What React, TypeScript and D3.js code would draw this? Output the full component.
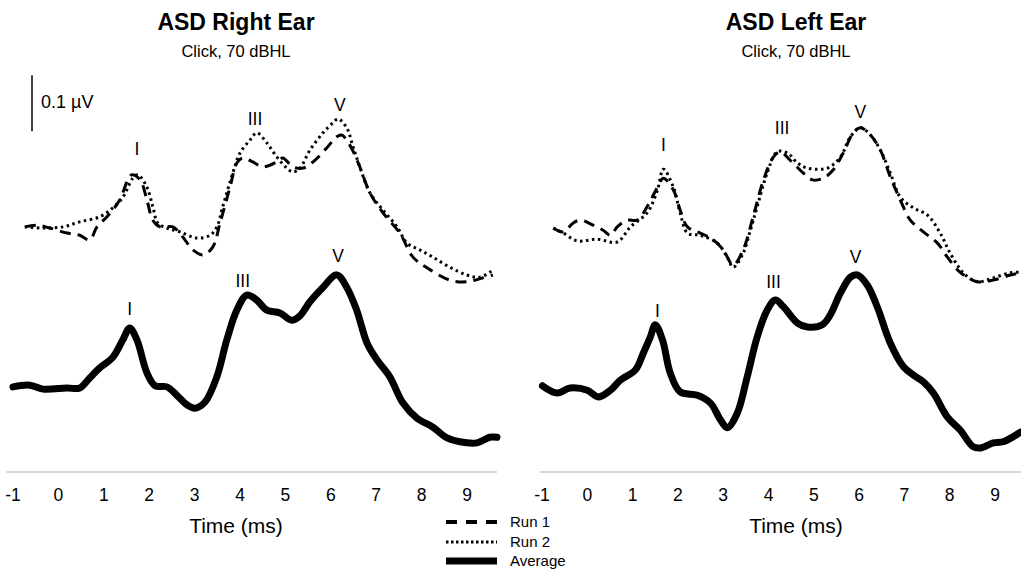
import React from "react";
import * as d3 from "d3";

// ---------- data (time in ms, amplitude in µV) ----------
const TICKS = [-1, 0, 1, 2, 3, 4, 5, 6, 7, 8, 9];

// Right ear
const R_AVG_T = [-1.0, -0.63, -0.34, 0.19, 0.47, 0.69, 0.91, 1.2, 1.42, 1.57, 1.73, 1.95, 2.13, 2.39, 2.61, 2.83, 3.01, 3.23, 3.49, 3.71, 3.93, 4.15, 4.37, 4.59, 4.88, 5.14, 5.32, 5.54, 5.83, 6.13, 6.35, 6.57, 6.8, 7.02, 7.3, 7.59, 7.9, 8.25, 8.56, 8.84, 9.22, 9.5, 9.66];
const R_AVG_V = [0.002, 0.005, -0.002, 0, 0, 0.018, 0.036, 0.055, 0.086, 0.107, 0.086, 0.027, 0.004, 0.002, -0.013, -0.03, -0.036, -0.025, 0.02, 0.086, 0.139, 0.166, 0.157, 0.139, 0.134, 0.121, 0.129, 0.154, 0.18, 0.202, 0.18, 0.139, 0.08, 0.05, 0.02, -0.027, -0.054, -0.07, -0.089, -0.096, -0.098, -0.088, -0.088];

const R_RUN2_T = [-0.74, -0.34, 0.1, 0.47, 0.91, 1.2, 1.42, 1.64, 1.75, 1.95, 2.08, 2.19, 2.39, 2.68, 3.05, 3.34, 3.49, 3.62, 3.84, 4.0, 4.22, 4.37, 4.59, 4.81, 5.03, 5.17, 5.32, 5.54, 5.83, 6.05, 6.16, 6.35, 6.49, 6.64, 6.86, 7.15, 7.46, 7.68, 7.96, 8.25, 8.62, 9.0, 9.28, 9.57];
const R_RUN2_V = [0.002, 0, 0.002, 0.011, 0.02, 0.036, 0.055, 0.089, 0.095, 0.073, 0.038, 0.009, 0, -0.007, -0.018, -0.013, 0.002, 0.038, 0.098, 0.134, 0.157, 0.17, 0.152, 0.127, 0.107, 0.1, 0.107, 0.139, 0.17, 0.188, 0.195, 0.179, 0.145, 0.109, 0.063, 0.032, 0.002, -0.027, -0.039, -0.052, -0.07, -0.084, -0.088, -0.075];

const R_RUN1_T = [-0.74, -0.47, -0.19, 0.19, 0.47, 0.69, 0.85, 1.07, 1.35, 1.53, 1.62, 1.8, 1.95, 2.08, 2.24, 2.52, 2.74, 2.96, 3.18, 3.4, 3.56, 3.78, 3.93, 4.06, 4.28, 4.5, 4.81, 4.94, 5.17, 5.39, 5.61, 5.91, 6.13, 6.24, 6.42, 6.64, 6.86, 7.15, 7.52, 7.81, 8.12, 8.62, 9.0, 9.35, 9.57];
const R_RUN1_V = [0.002, 0.005, 0, -0.009, -0.013, -0.021, 0.002, 0.02, 0.05, 0.086, 0.095, 0.086, 0.05, 0.014, 0.002, 0.002, -0.016, -0.039, -0.048, -0.034, 0.009, 0.073, 0.116, 0.125, 0.118, 0.109, 0.118, 0.125, 0.109, 0.107, 0.118, 0.143, 0.163, 0.166, 0.148, 0.109, 0.063, 0.027, -0.009, -0.052, -0.071, -0.093, -0.096, -0.089, -0.084];

// Left ear
const L_AVG_T = [-0.99, -0.66, -0.38, 0, 0.24, 0.51, 0.73, 1.06, 1.24, 1.39, 1.5, 1.66, 1.83, 2.05, 2.43, 2.72, 2.94, 3.09, 3.31, 3.53, 3.75, 3.97, 4.15, 4.33, 4.64, 4.86, 5.19, 5.36, 5.59, 5.81, 5.96, 6.18, 6.4, 6.69, 6.98, 7.2, 7.42, 7.64, 7.95, 8.23, 8.52, 8.68, 8.96, 9.18, 9.56];
const L_AVG_V = [0.004, -0.009, 0, -0.004, -0.016, -0.004, 0.014, 0.032, 0.063, 0.091, 0.113, 0.086, 0.027, -0.007, -0.013, -0.027, -0.057, -0.071, -0.045, 0.02, 0.091, 0.139, 0.157, 0.145, 0.116, 0.109, 0.113, 0.13, 0.17, 0.198, 0.202, 0.184, 0.145, 0.08, 0.038, 0.023, 0.011, -0.009, -0.052, -0.075, -0.105, -0.107, -0.098, -0.096, -0.079];

const L_RUN2_T = [-0.75, -0.53, -0.22, 0.22, 0.66, 0.95, 1.32, 1.55, 1.68, 1.9, 2.05, 2.21, 2.49, 2.87, 3.09, 3.22, 3.44, 3.6, 3.75, 3.97, 4.19, 4.42, 4.64, 4.86, 5.3, 5.59, 5.81, 6.03, 6.25, 6.47, 6.69, 6.91, 7.2, 7.51, 7.79, 8.01, 8.3, 8.61, 8.96, 9.34, 9.56];
const L_RUN2_V = [0, -0.009, -0.023, -0.02, -0.025, 0.002, 0.027, 0.068, 0.105, 0.073, 0.027, -0.009, -0.013, -0.027, -0.052, -0.07, -0.045, -0.004, 0.038, 0.098, 0.136, 0.134, 0.116, 0.107, 0.107, 0.127, 0.163, 0.179, 0.166, 0.139, 0.098, 0.055, 0.036, 0.023, -0.009, -0.045, -0.08, -0.096, -0.089, -0.08, -0.079];

const L_RUN1_T = [-0.75, -0.53, -0.31, -0.15, 0.13, 0.35, 0.51, 0.66, 0.88, 1.1, 1.32, 1.55, 1.68, 1.9, 2.05, 2.21, 2.49, 2.78, 3.0, 3.22, 3.44, 3.66, 3.89, 4.11, 4.26, 4.48, 4.77, 4.97, 5.21, 5.43, 5.65, 5.87, 6.03, 6.25, 6.47, 6.69, 6.91, 7.13, 7.42, 7.73, 7.95, 8.23, 8.61, 8.96, 9.34, 9.56];
const L_RUN1_V = [0, -0.007, 0.009, 0.014, 0.005, -0.004, -0.013, 0.002, 0.014, 0.014, 0.038, 0.073, 0.089, 0.068, 0.032, 0.002, -0.009, -0.021, -0.039, -0.066, -0.039, 0.02, 0.086, 0.127, 0.136, 0.121, 0.098, 0.086, 0.089, 0.104, 0.134, 0.17, 0.179, 0.166, 0.139, 0.091, 0.05, 0.014, -0.007, -0.027, -0.052, -0.079, -0.096, -0.093, -0.084, -0.08];

// Wave labels
const WAVES = ["I", "III", "V"];
const R_RUN_LABEL_T = [1.73, 4.33, 6.2];
const R_RUN_LABEL_V = [0.13, 0.184, 0.209];
const R_AVG_LABEL_T = [1.57, 4.06, 6.16];
const R_AVG_LABEL_V = [0.13, 0.18, 0.225];
const L_RUN_LABEL_T = [1.68, 4.3, 6.03];
const L_RUN_LABEL_V = [0.138, 0.168, 0.196];
const L_AVG_LABEL_T = [1.55, 4.11, 5.92];
const L_AVG_LABEL_V = [0.127, 0.179, 0.223];

const LEGEND = ["Run 1", "Run 2", "Average"];

// ---------- layout ----------
const W = 1021;
const H = 571;
const FONT = "'Liberation Sans', Arial, Helvetica, sans-serif";
const RUN_OFFSET = 0.2857; // µV vertical offset of the run traces
const SCALE_BAR = 0.1; // µV

const yScale = d3.scaleLinear().domain([0, 0.1]).range([388, 332]);

type PanelProps = {
  title: string;
  xRange: [number, number];
  axisRange: [number, number];
  titleX: number;
  avgT: number[];
  avgV: number[];
  run1T: number[];
  run1V: number[];
  run2T: number[];
  run2V: number[];
  runLabT: number[];
  runLabV: number[];
  avgLabT: number[];
  avgLabV: number[];
  scaleBar?: boolean;
};

function Panel(p: PanelProps) {
  const x = d3.scaleLinear().domain([-1, 9]).range(p.xRange);
  const line = (offset: number) =>
    d3
      .line<[number, number]>()
      .x((d) => x(d[0]))
      .y((d) => yScale(d[1] + offset))
      .curve(d3.curveCatmullRom.alpha(0.5));
  const zip = (t: number[], v: number[]) => t.map((tt, i) => [tt, v[i]] as [number, number]);
  const cx = p.titleX;
  const barBottom = 0.173;
  return (
    <g>
      <text x={cx} y={30} textAnchor="middle" fontFamily={FONT} fontWeight="bold" fontSize={23}>
        {p.title}
      </text>
      <text x={cx} y={57} textAnchor="middle" fontFamily={FONT} fontSize={16.5}>
        Click, 70 dBHL
      </text>
      {p.scaleBar && (
        <g>
          <line
            x1={32}
            x2={32}
            y1={yScale(barBottom + RUN_OFFSET)}
            y2={yScale(barBottom + RUN_OFFSET + SCALE_BAR)}
            stroke="#000"
            strokeWidth={1.5}
          />
          <text x={41} y={108} fontFamily={FONT} fontSize={18}>
            0.1 µV
          </text>
        </g>
      )}
      <line x1={p.axisRange[0]} x2={p.axisRange[1]} y1={472} y2={472} stroke="#d9d9d9" strokeWidth={2} />
      {TICKS.map((t) => (
        <text key={t} x={x(t)} y={501} textAnchor="middle" fontFamily={FONT} fontSize={17.5}>
          {t}
        </text>
      ))}
      <text x={cx} y={533} textAnchor="middle" fontFamily={FONT} fontSize={21}>
        Time (ms)
      </text>
      <path
        d={line(RUN_OFFSET)(zip(p.run2T, p.run2V)) || ""}
        fill="none"
        stroke="#000"
        strokeWidth={3}
        strokeDasharray="2.5,3.5"
      />
      <path
        d={line(RUN_OFFSET)(zip(p.run1T, p.run1V)) || ""}
        fill="none"
        stroke="#000"
        strokeWidth={3}
        strokeDasharray="11,7"
      />
      <path
        d={line(0)(zip(p.avgT, p.avgV)) || ""}
        fill="none"
        stroke="#000"
        strokeWidth={7}
        strokeLinejoin="round"
        strokeLinecap="round"
      />
      {WAVES.map((w, i) => (
        <text key={"r" + w} x={x(p.runLabT[i])} y={yScale(p.runLabV[i] + RUN_OFFSET)} textAnchor="middle" fontFamily={FONT} fontSize={17.5}>
          {w}
        </text>
      ))}
      {WAVES.map((w, i) => (
        <text key={"a" + w} x={x(p.avgLabT[i])} y={yScale(p.avgLabV[i])} textAnchor="middle" fontFamily={FONT} fontSize={17.5}>
          {w}
        </text>
      ))}
    </g>
  );
}

function Legend() {
  const rows = [
    { dash: "11,9", w: 4 },
    { dash: "2.5,2.5", w: 3 },
    { dash: "", w: 7 },
  ];
  const ys = [522, 542, 561];
  return (
    <g>
      {LEGEND.map((name, i) => (
        <g key={name}>
          <line x1={446} x2={497} y1={ys[i]} y2={ys[i]} stroke="#000" strokeWidth={rows[i].w} strokeDasharray={rows[i].dash || undefined} />
          <text x={510} y={ys[i] + 5} fontFamily={FONT} fontSize={15}>
            {name}
          </text>
        </g>
      ))}
    </g>
  );
}

export default function App() {
  return (
    <svg width={W} height={H} style={{ position: "absolute", left: 0, top: 0, background: "#fff" }}>
      <rect width={W} height={H} fill="#fff" />
      <Panel
        title="ASD Right Ear"
        xRange={[13, 467]}
        axisRange={[6, 497]}
        titleX={236}
        avgT={R_AVG_T}
        avgV={R_AVG_V}
        run1T={R_RUN1_T}
        run1V={R_RUN1_V}
        run2T={R_RUN2_T}
        run2V={R_RUN2_V}
        runLabT={R_RUN_LABEL_T}
        runLabV={R_RUN_LABEL_V}
        avgLabT={R_AVG_LABEL_T}
        avgLabV={R_AVG_LABEL_V}
        scaleBar
      />
      <Panel
        title="ASD Left Ear"
        xRange={[542, 995]}
        axisRange={[540, 1021]}
        titleX={796}
        avgT={L_AVG_T}
        avgV={L_AVG_V}
        run1T={L_RUN1_T}
        run1V={L_RUN1_V}
        run2T={L_RUN2_T}
        run2V={L_RUN2_V}
        runLabT={L_RUN_LABEL_T}
        runLabV={L_RUN_LABEL_V}
        avgLabT={L_AVG_LABEL_T}
        avgLabV={L_AVG_LABEL_V}
      />
      <Legend />
    </svg>
  );
}
